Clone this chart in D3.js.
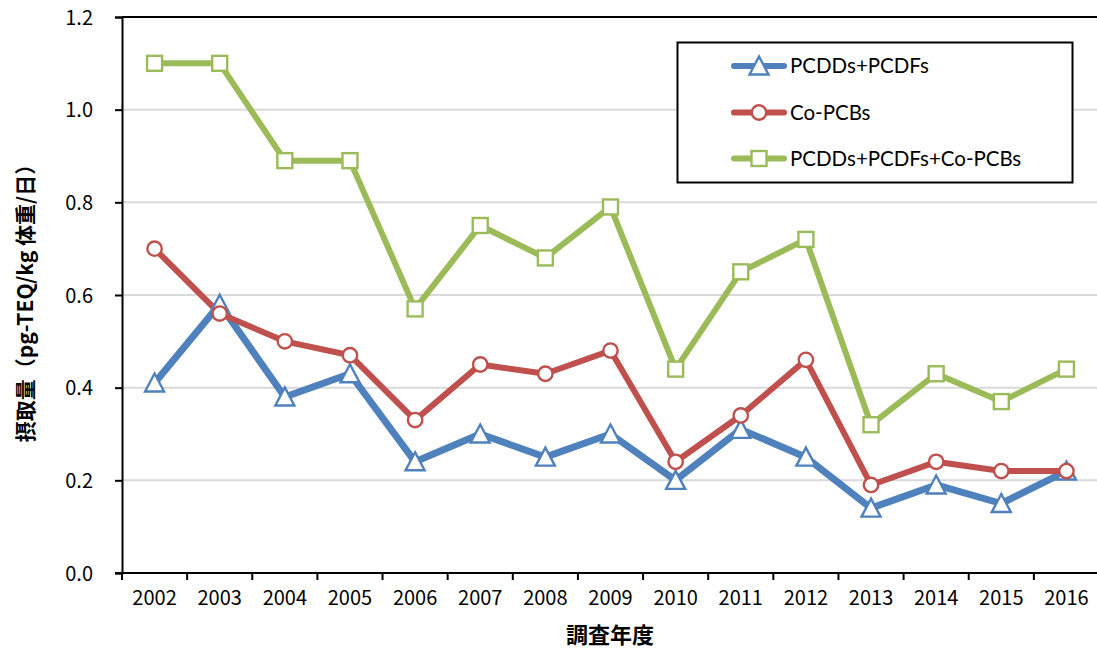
<!DOCTYPE html>
<html><head><meta charset="utf-8">
<script src="https://cdn.jsdelivr.net/npm/d3@7"></script>
<style>
body{margin:0;background:#fff;}
svg{display:block;}
</style></head>
<body>
<svg id="chart" width="1097" height="650"></svg>
<script>
const years = ["2002","2003","2004","2005","2006","2007","2008","2009","2010","2011","2012","2013","2014","2015","2016"];
const pcdd = [0.41,0.58,0.38,0.43,0.24,0.30,0.25,0.30,0.20,0.31,0.25,0.14,0.19,0.15,0.22];
const copcb = [0.70,0.56,0.50,0.47,0.33,0.45,0.43,0.48,0.24,0.34,0.46,0.19,0.24,0.22,0.22];
const total = [1.10,1.10,0.89,0.89,0.57,0.75,0.68,0.79,0.44,0.65,0.72,0.32,0.43,0.37,0.44];
const yTicks = [0,0.2,0.4,0.6,0.8,1.0,1.2];
const seriesNames = ["PCDDs+PCDFs","Co-PCBs","PCDDs+PCDFs+Co-PCBs"];
const xTitle = "調査年度";
const yTitle = "摂取量（pg-TEQ/kg 体重/日）";

const series = [
  {name: seriesNames[0], values: pcdd, color: "#4F81BD", marker: "triangle", width: 7},
  {name: seriesNames[1], values: copcb, color: "#C0504D", marker: "circle", width: 6},
  {name: seriesNames[2], values: total, color: "#9BBB59", marker: "square", width: 6}
];

const svg = d3.select("#chart");
const pLeft = 122, pRight = 1099, pTop = 17, pBottom = 573;
const x = d3.scaleBand().domain(years).range([pLeft, pRight]);
const y = d3.scaleLinear().domain([0, 1.2]).range([pBottom, pTop]);
const tickFont = "'Noto Sans CJK JP', 'DejaVu Sans', sans-serif";

// gridlines
svg.append("g").selectAll("line").data(yTicks.filter(d => d > 0 && d < 1.2)).join("line")
  .attr("x1", pLeft).attr("x2", 1097).attr("y1", d => y(d)).attr("y2", d => y(d))
  .attr("stroke", "#d9d9d9").attr("stroke-width", 2);
// top border line
svg.append("line").attr("x1", pLeft).attr("x2", 1097).attr("y1", y(1.2)).attr("y2", y(1.2))
  .attr("stroke", "#000").attr("stroke-width", 2);

// y axis
const yAxis = d3.axisLeft(y).tickValues(yTicks).tickFormat(d3.format(".1f")).tickSize(7).tickPadding(22);
const gy = svg.append("g").attr("transform", `translate(${pLeft},0)`).call(yAxis);
gy.select(".domain").attr("stroke", "#000").attr("stroke-width", 2);
gy.selectAll(".tick line").attr("stroke", "#000").attr("stroke-width", 2);
gy.selectAll(".tick text").attr("font-family", tickFont).attr("font-size", 20).attr("fill", "#000").attr("dy", "0.35em");

// x axis
const xAxis = d3.axisBottom(x).tickSize(0).tickPadding(18);
const gx = svg.append("g").attr("transform", `translate(0,${pBottom})`).call(xAxis);
gx.select(".domain").attr("stroke", "#000").attr("stroke-width", 2).attr("d", `M${pLeft-7},0H${pRight}`);
gx.selectAll(".tick text").attr("font-family", tickFont).attr("font-size", 20).attr("fill", "#000");
// boundary ticks
const bounds = years.map(d => x(d)).concat([x(years[years.length-1]) + x.bandwidth()]);
svg.append("g").selectAll("line").data(bounds).join("line")
  .attr("x1", d => d).attr("x2", d => d).attr("y1", pBottom).attr("y2", pBottom + 7)
  .attr("stroke", "#000").attr("stroke-width", 2);

// titles
svg.append("text").attr("x", 610).attr("y", 643).attr("text-anchor", "middle")
  .attr("font-family", "'Noto Sans CJK JP', sans-serif").attr("font-weight", "bold").attr("font-size", 22)
  .text(xTitle);
svg.append("text").attr("transform", "translate(33,298) rotate(-90)").attr("text-anchor", "middle")
  .attr("font-family", "'Noto Sans CJK JP', sans-serif").attr("font-weight", "bold").attr("font-size", 21)
  .text(yTitle);

const cx = d => x(d) + x.bandwidth() / 2;
function drawMarker(g, type, color) {
  if (type === "circle") {
    g.append("circle").attr("r", 7.2).attr("fill", "#fff").attr("stroke", color).attr("stroke-width", 2.4);
  } else if (type === "square") {
    g.append("rect").attr("x", -7.5).attr("y", -7.5).attr("width", 15).attr("height", 15)
      .attr("fill", "#fff").attr("stroke", color).attr("stroke-width", 2.4);
  } else {
    g.append("path").attr("d", "M0,-9.5L9.5,8.5L-9.5,8.5Z")
      .attr("fill", "#fff").attr("stroke", color).attr("stroke-width", 2.4).attr("stroke-linejoin", "miter");
  }
}

const line = d3.line().x((d, i) => cx(years[i])).y(d => y(d));
series.forEach(s => {
  svg.append("path").datum(s.values).attr("d", line).attr("fill", "none")
    .attr("stroke", s.color).attr("stroke-width", s.width).attr("stroke-linejoin", "round").attr("stroke-linecap", "round");
});
series.forEach(s => {
  s.values.forEach((v, i) => {
    const g = svg.append("g").attr("transform", `translate(${cx(years[i])},${y(v)})`);
    drawMarker(g, s.marker, s.color);
  });
});

// legend
const lg = svg.append("g");
lg.append("rect").attr("x", 677.5).attr("y", 42.5).attr("width", 395).attr("height", 140)
  .attr("fill", "#fff").attr("stroke", "#000").attr("stroke-width", 2);
const rowsY = [66, 112.5, 158.5];
series.forEach((s, i) => {
  const yy = rowsY[i];
  lg.append("line").attr("x1", 734).attr("x2", 784).attr("y1", yy).attr("y2", yy)
    .attr("stroke", s.color).attr("stroke-width", 6).attr("stroke-linecap", "round");
  const g = lg.append("g").attr("transform", `translate(759,${yy})`);
  drawMarker(g, s.marker, s.color);
  lg.append("text").attr("x", 790).attr("y", yy).attr("dy", "0.36em")
    .attr("font-family", "Lato, 'Open Sans', sans-serif").attr("font-size", 20.5).attr("fill", "#000")
    .text(s.name);
});
</script>
</body></html>
